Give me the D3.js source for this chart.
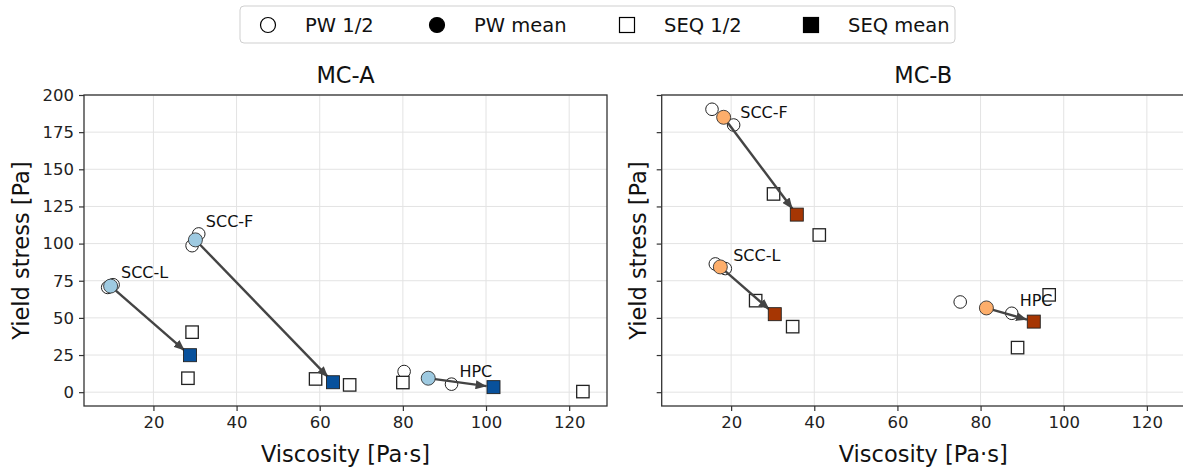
<!DOCTYPE html>
<html>
<head>
<meta charset="utf-8">
<script src="https://cdn.jsdelivr.net/npm/d3@7"></script>
<style>
  body { margin: 0; background: #fff; }
  svg { font-family: "DejaVu Sans", sans-serif; }
  .tick text { font-family: "DejaVu Sans", sans-serif; font-size: 16.5px; fill: #222; }
</style>
</head>
<body>
<svg id="chart" width="1183" height="468"></svg>
<script>
// Data: [viscosity Pa·s, yield stress Pa]
var mixes = ["SCC-L", "SCC-F", "HPC"];
var xTicks = [20, 40, 60, 80, 100, 120];
var yTicks = [0, 25, 50, 75, 100, 125, 150, 175, 200];

// MC-A
var mcA_pw = [[[9.0, 70.5], [10.3, 72.3]], [[29.3, 98.6], [30.9, 106.5]], [[80.3, 13.9], [91.7, 5.4]]];
var mcA_pwMean = [[9.7, 71.4], [30.1, 102.5], [86.1, 9.4]];
var mcA_seq = [[[29.3, 40.4], [28.3, 9.4]], [[59.0, 8.9], [67.2, 4.9]], [[80.0, 6.5], [123.3, 0.4]]];
var mcA_seqMean = [[28.8, 24.9], [63.2, 6.7], [101.8, 3.4]];
var mcA_labelAt = [[12.2, 76.6], [32.6, 111.0], [93.6, 10.0]];

// MC-B
var mcB_pw = [[[16.2, 86.3], [18.6, 83.2]], [[15.4, 190.4], [20.6, 179.8]], [[75.1, 60.7], [87.5, 53.1]]];
var mcB_pwMean = [[17.4, 84.3], [18.2, 185.0], [81.4, 56.7]];
var mcB_seq = [[[25.9, 61.6], [34.8, 44.1]], [[30.2, 133.4], [41.2, 105.8]], [[96.5, 65.5], [88.9, 30.0]]];
var mcB_seqMean = [[30.5, 52.5], [35.8, 119.5], [92.8, 47.5]];
var mcB_labelAt = [[20.5, 88.3], [22.2, 184.5], [89.4, 58.1]];

var panels = [
  { title: "MC-A", left: 84, pw: mcA_pw, pwMean: mcA_pwMean, seq: mcA_seq, seqMean: mcA_seqMean,
    labelAt: mcA_labelAt, light: "#9ecae1", dark: "#08519c", yLabels: true },
  { title: "MC-B", left: 661.7, pw: mcB_pw, pwMean: mcB_pwMean, seq: mcB_seq, seqMean: mcB_seqMean,
    labelAt: mcB_labelAt, light: "#fdae6b", dark: "#a63603", yLabels: false }
];

var plotW = 523, plotTop = 95, plotH = 311;
var svg = d3.select("#chart");

svg.append("defs").append("marker")
  .attr("id", "head")
  .attr("viewBox", "0 0 11 9")
  .attr("refX", 11).attr("refY", 4.5)
  .attr("markerWidth", 11).attr("markerHeight", 9)
  .attr("markerUnits", "userSpaceOnUse")
  .attr("orient", "auto")
  .append("path").attr("d", "M0,0 L11,4.5 L0,9 Z").attr("fill", "#444");

panels.forEach(function(p){
  var x = d3.scaleLinear().domain([3.3, 129.1]).range([0, plotW]);
  var y = d3.scaleLinear().domain([-9.3, 200]).range([plotH, 0]);
  var g = svg.append("g").attr("transform", "translate(" + p.left + "," + plotTop + ")");

  // grid
  g.selectAll(".gx").data(xTicks).enter().append("line")
    .attr("x1", d => x(d)).attr("x2", d => x(d)).attr("y1", 0).attr("y2", plotH)
    .attr("stroke", "#e3e3e3").attr("stroke-width", 1);
  g.selectAll(".gy").data(yTicks).enter().append("line")
    .attr("y1", d => y(d)).attr("y2", d => y(d)).attr("x1", 0).attr("x2", plotW)
    .attr("stroke", "#e3e3e3").attr("stroke-width", 1);

  // axes
  var xa = g.append("g").attr("transform", "translate(0," + plotH + ")")
    .call(d3.axisBottom(x).tickValues(xTicks).tickSize(5).tickPadding(5));
  var ya = g.append("g")
    .call(d3.axisLeft(y).tickValues(yTicks).tickSize(5).tickPadding(5)
      .tickFormat(p.yLabels ? d3.format("d") : ""));
  [xa, ya].forEach(function(a){
    a.attr("font-size", null).attr("font-family", null);
    a.select(".domain").remove();
    a.selectAll("line").attr("stroke", "#333").attr("stroke-width", 1.2);
  });

  g.append("rect").attr("width", plotW).attr("height", plotH)
    .attr("fill", "none").attr("stroke", "#333").attr("stroke-width", 1.3);

  // PW halves and SEQ halves
  p.pw.forEach(function(pair){
    g.selectAll(null).data(pair).enter().append("circle")
      .attr("cx", d => x(d[0])).attr("cy", d => y(d[1])).attr("r", 6.3)
      .attr("fill", "#fff").attr("stroke", "#222").attr("stroke-width", 1);
  });
  p.seq.forEach(function(pair){
    g.selectAll(null).data(pair).enter().append("rect")
      .attr("x", d => x(d[0]) - 6.2).attr("y", d => y(d[1]) - 6.2)
      .attr("width", 12.4).attr("height", 12.4)
      .attr("fill", "#fff").attr("stroke", "#222").attr("stroke-width", 1.3);
  });

  // arrows PW mean -> SEQ mean
  p.pwMean.forEach(function(a, i){
    var b = p.seqMean[i];
    var x1 = x(a[0]), y1 = y(a[1]), x2 = x(b[0]), y2 = y(b[1]);
    var len = Math.hypot(x2 - x1, y2 - y1), ux = (x2 - x1) / len, uy = (y2 - y1) / len;
    g.append("line")
      .attr("x1", x1 + ux * 5).attr("y1", y1 + uy * 5)
      .attr("x2", x2 - ux * 7).attr("y2", y2 - uy * 7)
      .attr("stroke", "#444").attr("stroke-width", 2.4)
      .attr("marker-end", "url(#head)");
  });

  g.selectAll(".pwm").data(p.pwMean).enter().append("circle")
    .attr("cx", d => x(d[0])).attr("cy", d => y(d[1])).attr("r", 7)
    .attr("fill", p.light).attr("stroke", "#333").attr("stroke-width", 0.9);
  g.selectAll(".seqm").data(p.seqMean).enter().append("rect")
    .attr("x", d => x(d[0]) - 6.5).attr("y", d => y(d[1]) - 6.5)
    .attr("width", 13).attr("height", 13)
    .attr("fill", p.dark).attr("stroke", "#222").attr("stroke-width", 0.9);

  // mix labels
  g.selectAll(".lbl").data(p.labelAt).enter().append("text")
    .attr("x", d => x(d[0])).attr("y", d => y(d[1]))
    .attr("fill", "#111").style("font-size", "16px")
    .text((d, i) => mixes[i]);

  // titles & axis labels
  g.append("text").attr("x", plotW / 2).attr("y", -12).attr("text-anchor", "middle")
    .style("font-size", "22.5px").attr("fill", "#111").text(p.title);
  g.append("text").attr("x", plotW / 2).attr("y", plotH + 56).attr("text-anchor", "middle")
    .style("font-size", "22.5px").attr("fill", "#111").text("Viscosity [Pa·s]");
  g.append("text")
    .attr("transform", "translate(" + (p.yLabels ? -55 : -16) + "," + (plotH / 2) + ") rotate(-90)")
    .attr("text-anchor", "middle")
    .style("font-size", "22.5px").attr("fill", "#111").text("Yield stress [Pa]");
});

// legend
var legendItems = ["PW 1/2", "PW mean", "SEQ 1/2", "SEQ mean"];
var legendX = [268, 437, 627, 811];
var lg = svg.append("g");
lg.append("rect").attr("x", 240).attr("y", 6).attr("width", 715).attr("height", 37).attr("rx", 4)
  .attr("fill", "#fff").attr("stroke", "#cfcfcf").attr("stroke-width", 1);
legendItems.forEach(function(t, i){
  var cx = legendX[i], cy = 25;
  if (i < 2) {
    lg.append("circle").attr("cx", cx).attr("cy", cy).attr("r", 7.5)
      .attr("fill", i === 0 ? "#fff" : "#000").attr("stroke", "#000").attr("stroke-width", 1.2);
  } else {
    lg.append("rect").attr("x", cx - 7.5).attr("y", cy - 7.5).attr("width", 15).attr("height", 15)
      .attr("fill", i === 2 ? "#fff" : "#000").attr("stroke", "#000").attr("stroke-width", 1.2);
  }
  lg.append("text").attr("x", cx + 37).attr("y", cy).attr("dy", "0.35em")
    .style("font-size", "19.5px").attr("fill", "#111").text(t);
});
</script>
</body>
</html>
